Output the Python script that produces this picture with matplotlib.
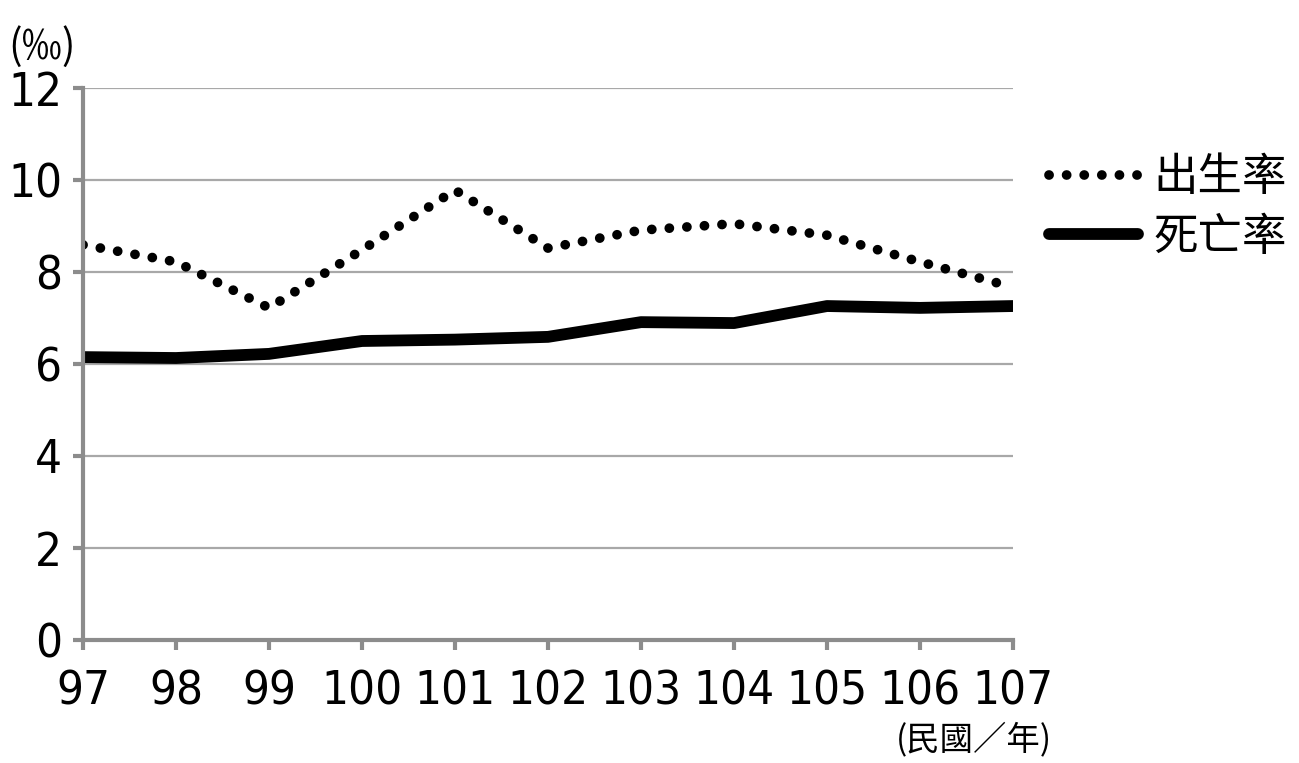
import matplotlib
matplotlib.use("Agg")
import matplotlib.pyplot as plt
from matplotlib import font_manager

# datos
years = [97, 98, 99, 100, 101, 102, 103, 104, 105, 106, 107]
birth_rate = [8.59, 8.22, 7.22, 8.48, 9.78, 8.52, 8.91, 9.05, 8.80, 8.22, 7.67]
death_rate = [6.15, 6.13, 6.22, 6.50, 6.53, 6.59, 6.91, 6.89, 7.26, 7.22, 7.26]
yticks = [0, 2, 4, 6, 8, 10, 12]

names = {f.name for f in font_manager.fontManager.ttflist}
num_font = "Liberation Sans Narrow" if "Liberation Sans Narrow" in names else "DejaVu Sans"
plt.rcParams['font.family'] = ['Noto Sans CJK TC', 'DejaVu Sans']

gray = "#8c8c8c"
fig = plt.figure(figsize=(12.99, 7.63), dpi=100)
ax = fig.add_axes([83/1299, 1-640/763, (1013-83)/1299, (640-88)/763])

ax.plot(years, birth_rate, color="black", lw=7, linestyle=(0, (0.01, 1.8)),
        dash_capstyle="round", label="出生率")
ax.plot(years, death_rate, color="black", lw=8.5, solid_capstyle="round",
        label="死亡率")

ax.set_xlim(97, 107)
ax.set_ylim(0, 12)
ax.set_xticks(years)
ax.set_yticks(yticks)
ax.set_xticklabels([str(y) for y in years], family=[num_font, 'DejaVu Sans'],
                   fontsize=34, fontstretch="condensed")
ax.set_yticklabels([str(y) for y in yticks], family=[num_font, 'DejaVu Sans'],
                   fontsize=34, fontstretch="condensed")

ax.grid(axis="y", color="#a8a8a8", lw=1.6)
ax.set_axisbelow(True)
for s in ["top", "right"]:
    ax.spines[s].set_color(gray)
    ax.spines[s].set_visible(False)
for s in ["left", "bottom"]:
    ax.spines[s].set_color(gray)
    ax.spines[s].set_linewidth(3)
ax.tick_params(axis="both", color=gray, width=3, length=7)
ax.tick_params(axis="x", pad=14)
ax.tick_params(axis="y", pad=8)

ax.legend(loc="upper left", bbox_to_anchor=(1.02, 0.912), frameon=False,
          fontsize=32, handlelength=2.0, handletextpad=0.35, labelspacing=0.3,
          borderaxespad=0)

fig.text(8/1299, 1-47/763, "(‰)", fontsize=29, va="center", ha="left")
fig.text(1052/1299, 1-740/763, "(民國／年)", fontsize=24, va="center", ha="right")

fig.savefig("out.png", dpi=100)
